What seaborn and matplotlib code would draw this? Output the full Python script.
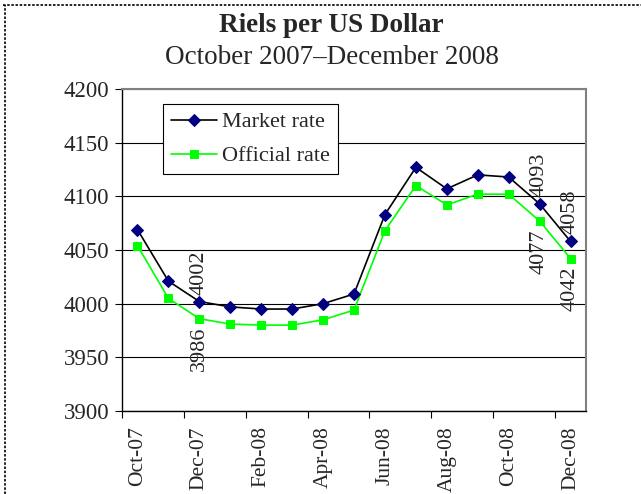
import matplotlib
matplotlib.use("Agg")
import matplotlib.pyplot as plt
from matplotlib.lines import Line2D
import seaborn as sns
import pandas as pd

months = ["Oct-07", "Nov-07", "Dec-07", "Jan-08", "Feb-08", "Mar-08", "Apr-08", "May-08",
          "Jun-08", "Jul-08", "Aug-08", "Sep-08", "Oct-08", "Nov-08", "Dec-08"]
market_rate = [4069, 4021, 4002, 3997, 3995, 3995, 4000, 4009,
               4083, 4127, 4107, 4120, 4118, 4093, 4058]
official_rate = [4054, 4005, 3986, 3981, 3980, 3980, 3985, 3994,
                 4068, 4110, 4092, 4102, 4102, 4077, 4042]
labelled_idx = [2, 13, 14]
yticks = [3900, 3950, 4000, 4050, 4100, 4150, 4200]

sns.set_style("white")
plt.rcParams["font.family"] = ["Liberation Serif", "DejaVu Serif"]

n = len(months)
x = list(range(n))
df = pd.DataFrame({
    "x": x * 2,
    "rate": market_rate + official_rate,
    "series": ["Market rate"] * n + ["Official rate"] * n,
})

fig = plt.figure(figsize=(6.41, 4.94), dpi=100)
ax = fig.add_axes([122 / 641, 1 - 411 / 494, 464 / 641, 322 / 494])

sns.lineplot(data=df[df.series == "Market rate"], x="x", y="rate", ax=ax,
             color="black", lw=1.2, marker="D", markersize=6.5,
             markerfacecolor="#000080", markeredgecolor="#000080",
             label="Market rate", zorder=4)
sns.lineplot(data=df[df.series == "Official rate"], x="x", y="rate", ax=ax,
             color="#00FF00", lw=1.2, marker="s", markersize=6,
             markerfacecolor="#00FF00", markeredgecolor="#00FF00",
             label="Official rate", zorder=3)

ax.set_xlim(-0.5, n - 0.5)
ax.set_ylim(3900, 4200)
ax.set_yticks(yticks)
ax.set_yticklabels([str(v) for v in yticks], fontsize=16.5)
ax.set_xticks([i - 0.5 for i in range(0, n, 2)])
ax.set_xticklabels([])
ax.set_xticks(list(range(0, n, 2)), minor=True)
ax.set_xticklabels([months[i] for i in range(0, n, 2)], minor=True,
                   rotation=90, fontsize=15.5)
ax.tick_params(axis="x", which="major", length=5, width=0.8, color="black", direction="out", bottom=True)
ax.tick_params(axis="x", which="minor", length=0, pad=11, bottom=True)
ax.tick_params(axis="y", length=5, width=0.8, color="black", direction="out", left=True, pad=4)
ax.set_xlabel("")
ax.set_ylabel("")

ax.yaxis.grid(True, color="black", lw=0.8)
ax.set_axisbelow(True)
for side in ["left", "bottom"]:
    ax.spines[side].set_color("black")
    ax.spines[side].set_linewidth(1.0)
for side in ["top", "right"]:
    ax.spines[side].set_color("#808080")
    ax.spines[side].set_linewidth(1.5)

for i in labelled_idx:
    ax.annotate(str(market_rate[i]), (x[i], market_rate[i]), xytext=(0, 5),
                textcoords="offset points", rotation=90, ha="center", va="bottom",
                fontsize=16)
    ax.annotate(str(official_rate[i]), (x[i], official_rate[i]), xytext=(0, -6),
                textcoords="offset points", rotation=90, ha="center", va="top",
                fontsize=16)

leg = ax.legend(loc="upper left", bbox_to_anchor=(0.088, 0.953), borderaxespad=0,
                fontsize=16, frameon=True, fancybox=False, framealpha=1,
                edgecolor="black", handlelength=2.1, handletextpad=0.22,
                borderpad=0.35, labelspacing=0.6)
leg.get_frame().set_linewidth(0.8)

fig.text(331 / 641, 1 - 32 / 494, "Riels per US Dollar", ha="center", va="baseline",
         fontsize=19.5, fontweight="bold")
fig.text(332 / 641, 1 - 64 / 494, "October 2007\u2013December 2008", ha="center",
         va="baseline", fontsize=19.5)

fig.add_artist(Line2D([3 / 641, 1], [1 - 5 / 494, 1 - 5 / 494], transform=fig.transFigure,
                      color="black", lw=1.2, ls=(0, (1.5, 1))))
fig.add_artist(Line2D([5 / 641, 5 / 641], [0, 1 - 5 / 494], transform=fig.transFigure,
                      color="black", lw=1.2, ls=(0, (1.5, 1))))

fig.savefig("out.png", dpi=100)
